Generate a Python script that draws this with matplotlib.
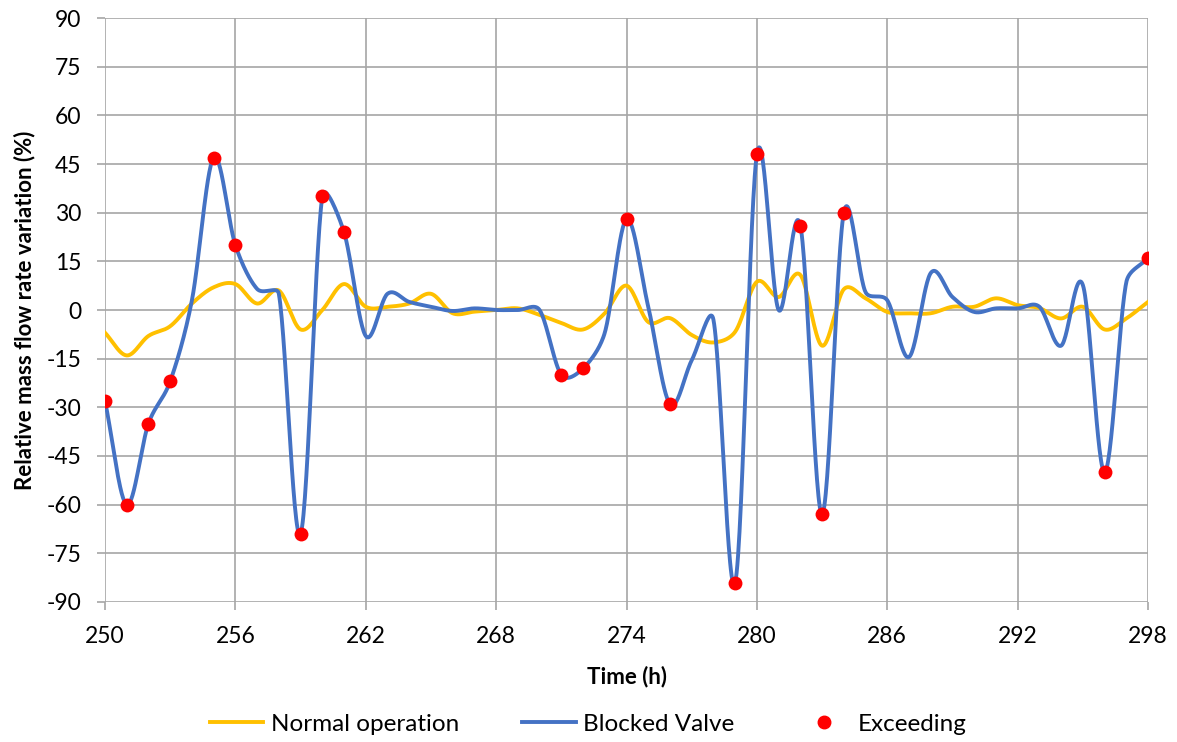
import numpy as np
import matplotlib.pyplot as plt
from matplotlib.lines import Line2D

# hourly readings, 250 h .. 298 h
hours = np.arange(250, 299)

normal_operation = [
    -7, -14, -8, -5, 2, 7, 8, 2, 6, -6,
    0, 8, 1, 1, 2, 5, -1, -0.5, 0, 0.5,
    -1.5, -4, -6, -1, 7.5, -3.7, -2.5, -7.7, -10, -6.7,
    8.7, 4, 10.8, -11, 6.4, 3.6, -0.6, -1, -1, 1,
    1, 3.6, 1.5, 0.6, -2.6, 1, -6, -2.6, 2.5,
]

blocked_valve = [
    -28, -60, -35, -22, 3, 47, 20, 6.5, 5, -69,
    35, 24, -8, 5, 2.5, 1, -0.3, 0.5, 0, 0,
    0, -20, -18, -7, 28, 1, -29, -15.5, -3, -84,
    48, 0, 26, -63, 30, 5.5, 3, -14.5, 11.4, 4,
    -0.6, 0.5, 0.5, 1, -11, 7.7, -50, 8.6, 16,
]

# hours where the blocked-valve signal exceeds the threshold
exceed_hours = [250, 251, 252, 253, 255, 256, 259, 260, 261, 271, 272,
                274, 276, 279, 280, 282, 283, 284, 296, 298]

X_RANGE = (250, 298)
Y_RANGE = (-90, 90)
# plot area size in pixels, so the smoothing works in screen space
PX_W, PX_H = 1043.0, 584.0


def smooth(x, y, n=30, cap=0.4):
    """Catmull-Rom bezier, handles capped relative to the segment length."""
    sx = PX_W / (X_RANGE[1] - X_RANGE[0])
    sy = PX_H / (Y_RANGE[1] - Y_RANGE[0])
    P = np.column_stack([np.asarray(x, float) * sx, np.asarray(y, float) * sy])
    m = len(P)
    d = np.array([P[min(i + 1, m - 1)] - P[max(i - 1, 0)] for i in range(m)])
    d[0] *= 2
    d[-1] *= 2
    t = np.linspace(0, 1, n, endpoint=False)[:, None]
    out = []
    for i in range(m - 1):
        p0, p3 = P[i], P[i + 1]
        L = np.hypot(*(p3 - p0))
        h0 = d[i] / 6
        h1 = d[i + 1] / 6
        n0, n1 = np.hypot(*h0), np.hypot(*h1)
        if n0 > cap * L:
            h0 = h0 * cap * L / n0
        if n1 > cap * L:
            h1 = h1 * cap * L / n1
        c1 = p0 + h0
        c2 = p3 - h1
        out.append((1 - t) ** 3 * p0 + 3 * (1 - t) ** 2 * t * c1
                   + 3 * (1 - t) * t ** 2 * c2 + t ** 3 * p3)
    out.append(P[-1:])
    out = np.vstack(out)
    return out[:, 0] / sx, out[:, 1] / sy


plt.rcParams['font.family'] = ['Lato', 'DejaVu Sans']
plt.rcParams['axes.unicode_minus'] = False

fig = plt.figure(figsize=(11.77, 7.42), dpi=100)
ax = fig.add_axes([0.0892, 0.1887, 0.8862, 0.787])

grid_c = '#A6A6A6'
sx, sy = smooth(hours, normal_operation)
ax.plot(sx, sy, color='#FFC000', lw=2.8, zorder=3)
sx, sy = smooth(hours, blocked_valve)
ax.plot(sx, sy, color='#4472C4', lw=2.8, zorder=4)

lookup = dict(zip(hours, blocked_valve))
ax.scatter(exceed_hours, [lookup[h] for h in exceed_hours], s=100,
           color='#FF0000', zorder=5, linewidths=0)

ax.set_xlim(*X_RANGE)
ax.set_ylim(*Y_RANGE)
ax.set_xticks(np.arange(250, 299, 6))
ax.set_yticks(np.arange(-90, 91, 15))
ax.grid(True, color=grid_c, lw=1.2)
ax.set_axisbelow(True)
for s in ax.spines.values():
    s.set_visible(False)
ax.tick_params(axis='both', length=6, width=1.2, color=grid_c,
               labelsize=16.5)
ax.tick_params(axis='y', pad=11)
ax.tick_params(axis='x', pad=11)

ax.set_xlabel('Time (h)', fontsize=16, fontweight='bold', labelpad=14)
ax.set_ylabel('Relative mass flow rate variation (%)', fontsize=16,
              fontweight='bold', labelpad=8)

handles = [
    Line2D([], [], color='#FFC000', lw=2.8),
    Line2D([], [], color='#4472C4', lw=2.8),
    Line2D([], [], color='#FF0000', lw=0, marker='o', markersize=9),
]
fig.legend(handles, ['Normal operation', 'Blocked Valve', 'Exceeding'],
           loc='lower center', bbox_to_anchor=(0.5, -0.02), ncol=3,
           frameon=False, fontsize=17.5, handlelength=2.2, columnspacing=2.6,
           handletextpad=0.3)

fig.savefig('out.png', dpi=100)
